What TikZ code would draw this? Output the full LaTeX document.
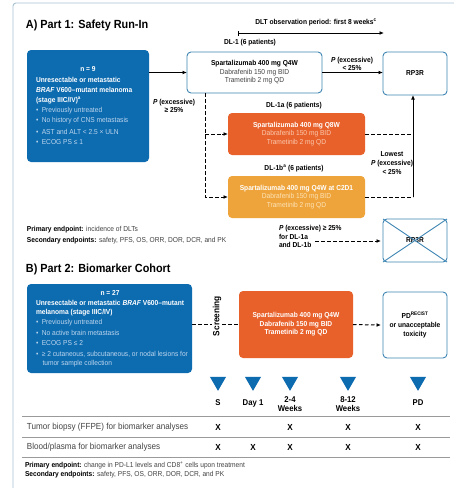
\documentclass[tikz,border=0pt]{standalone}
\usepackage{fontspec}
\setmainfont[FakeStretch=0.92]{Liberation Sans}
\usetikzlibrary{arrows.meta,shapes.geometric}
\definecolor{bbox}{HTML}{0D6BB0}
\definecolor{obox}{HTML}{E8612B}
\definecolor{ybox}{HTML}{EEA43A}
\definecolor{edgec}{HTML}{3F86B5}
\definecolor{framec}{HTML}{A9C3D3}
\definecolor{lightb}{HTML}{BCD6EE}
\definecolor{lighto}{HTML}{FBC9AD}
\definecolor{lighty}{HTML}{FDE3B8}
\definecolor{greytx}{HTML}{444444}
\definecolor{rule}{HTML}{9A9A9A}
\begin{document}
\begin{tikzpicture}[x=1pt,y=-1pt,
  every node/.style={inner sep=0pt, outer sep=0pt},
  tx/.style={font=\fontsize{7.2}{8.6}\selectfont},
  tb/.style={font=\bfseries\fontsize{7.2}{8.6}\selectfont},
  bl/.style={font=\fontsize{7.2}{8.6}\selectfont, text=lightb, anchor=west},
  wl/.style={font=\bfseries\fontsize{7.2}{8.6}\selectfont, text=white, anchor=west},
  titlef/.style={font=\bfseries\fontsize{11.8}{13}\selectfont, anchor=west},
  bluebox/.style={fill=bbox, rounded corners=4pt, anchor=north west},
  wbox/.style={draw=edgec, line width=0.9pt, fill=white, rounded corners=4pt, font=\fontsize{7.2}{8.6}\selectfont, align=center},
  obx/.style={fill=obox, rounded corners=4pt, font=\fontsize{7.2}{8.6}\selectfont, align=center, text=white},
  ybx/.style={fill=ybox, rounded corners=4pt, font=\fontsize{7.2}{8.6}\selectfont, align=center, text=white},
  arr/.style={-{Latex[length=4.5pt,width=3.8pt]}, line width=1pt},
  dsh/.style={line width=1pt, dash pattern=on 3.5pt off 2.5pt},
  tri/.style={regular polygon, regular polygon sides=3, shape border rotate=180, fill=bbox, minimum size=18.5pt},
  colh/.style={font=\bfseries\fontsize{8.4}{9.6}\selectfont, align=center},
  rowl/.style={font=\fontsize{8.8}{10}\selectfont, text=greytx, anchor=west},
  xm/.style={font=\bfseries\fontsize{8.8}{10}\selectfont}
]
\useasboundingbox (0,0) rectangle (454,488);
\fill[white] (0,0) rectangle (454,488);
% outer frame
\draw[framec, line width=0.9pt, rounded corners=3pt] (13,3) rectangle (470,505);

% ================= Part A =================
\node[titlef] (ta) at (26,25) {A) Part 1: Safety Run-In};

\node[bluebox, minimum width=122pt, minimum height=112pt] (pa) at (27,50) {};
\node[tb, text=white] (an) at (88,69) {n = 9};
\node[wl] (a1) at (36,80) {Unresectable or metastatic};
\node[wl] (a2) at (36,90) {\textit{BRAF} V600–mutant melanoma};
\node[wl] (a3) at (36,100) {(stage IIIC/IV)\textsuperscript{a}};
\node[bl] (a4) at (36,111) {•\hspace{3.5pt}Previously untreated};
\node[bl] (a5) at (36,121) {•\hspace{3.5pt}No history of CNS metastasis};
\node[bl] (a6) at (36,132) {•\hspace{3.5pt}AST and ALT < 2.5 × ULN};
\node[bl] (a7) at (36,142) {•\hspace{3.5pt}ECOG PS ≤ 1};

\node[tb] (dlt) at (316,22) {DLT observation period: first 8 weeks\textsuperscript{c}};
\coordinate (dlta) at (238,33);
\coordinate (dltb) at (384,33);
\draw[{Bar[width=5pt]}-{Latex[length=4.5pt,width=3.8pt]}, line width=1pt] (dlta) -- (dltb);

\node[tb] (l1) at (250,43) {DL-1 (6 patients)};
\node[wbox, minimum width=135pt, minimum height=41pt] (dl1) at (254.5,72.5)
  {\textbf{Spartalizumab 400 mg Q4W}\\{\color{greytx}Dabrafenib 150 mg BID}\\{\color{greytx}Trametinib 2 mg QD}};

\node[wbox, minimum width=64pt, minimum height=43pt] (rp) at (415,73.5) {\textbf{RP3R}};

\node[tb] (l1a) at (294,106) {DL-1a (6 patients)};
\node[obx, minimum width=137pt, minimum height=42pt] (dl1a) at (296.5,134)
  {\textbf{Spartalizumab 400 mg Q8W}\\{\color{lighto}Dabrafenib 150 mg BID}\\{\color{lighto}Trametinib 2 mg QD}};

\node[tb] (l1b) at (294,168) {DL-1b\textsuperscript{a} (6 patients)};
\node[ybx, minimum width=137pt, minimum height=42pt] (dl1b) at (296.5,197)
  {\textbf{Spartalizumab 400 mg Q4W at C2D1}\\{\color{lighty}Dabrafenib 150 mg BID}\\{\color{lighty}Trametinib 2 mg QD}};

\node[tb, align=center] (p1) at (174,106) {\textit{P} (excessive)\\≥ 25\%};
\node[tb, align=center] (p2) at (352,64) {\textit{P} (excessive)\\< 25\%};
\node[tb, align=center] (p3) at (392,163) {Lowest\\\textit{P} (excessive)\\< 25\%};

% connectors part A
\draw[arr] (pa.north east |- dl1.west) -- (dl1.west);
\draw[arr] (dl1.east) -- (dl1.east -| rp.west);
\coordinate (dtop) at (205,93);
\draw[dsh] (dtop) |- ([xshift=-6pt]dl1b.west);
\draw[arr] ([xshift=-6pt]dl1b.west) -- (dl1b.west);
\draw[dsh] (dtop |- dl1a.west) -- ([xshift=-6pt]dl1a.west);
\draw[arr] ([xshift=-6pt]dl1a.west) -- (dl1a.west);
\coordinate (rj) at (413,197);
\draw[dsh] (dl1a.east) -- (dl1a.east -| rj);
\draw[dsh] (dl1b.east) -- (rj);
\draw[arr] (rj) -- (rj |- rp.south);

% endpoints A
\node[tx, anchor=west] (e1) at (27,230) {\textbf{Primary endpoint:} {\color{greytx}incidence of DLTs}};
\node[tx, anchor=west] (e2) at (27,241) {\textbf{Secondary endpoints:} {\color{greytx}safety, PFS, OS, ORR, DOR, DCR, and PK}};

\node[tb, align=left, anchor=north west] (p4) at (279,225.5) {\textit{P} (excessive) ≥ 25\%\\for DL-1a\\and DL-1b};
\node[wbox, minimum width=64pt, minimum height=43pt] (rpx) at (415,240.5) {\textbf{RP3R}};
\draw[edgec, line width=0.9pt] (rpx.north west) -- (rpx.south east);
\draw[edgec, line width=0.9pt] (rpx.south west) -- (rpx.north east);
\coordinate (pe) at (315,241);
\draw[dsh] (pe) -- ([xshift=-6pt]pe -| rpx.west);
\draw[arr] ([xshift=-6pt]pe -| rpx.west) -- ([xshift=-2pt]pe -| rpx.west);

% ================= Part B =================
\node[titlef] (tb2) at (26,269) {B) Part 2: Biomarker Cohort};

\node[bluebox, minimum width=165pt, minimum height=89pt] (pb) at (27,284) {};
\node[tb, text=white] (bn) at (110,293) {n = 27};
\node[wl] (b1) at (36,303) {Unresectable or metastatic \textit{BRAF} V600–mutant};
\node[wl] (b2) at (36,313) {melanoma (stage IIIC/IV)};
\node[bl] (b3) at (36,323) {•\hspace{3.5pt}Previously untreated};
\node[bl] (b4) at (36,333) {•\hspace{3.5pt}No active brain metastasis};
\node[bl] (b5) at (36,343) {•\hspace{3.5pt}ECOG PS ≤ 2};
\node[bl] (b6) at (36,354) {•\hspace{3.5pt}≥ 2 cutaneous, subcutaneous, or nodal lesions for};
\node[bl] (b7) at (42.5,364) {tumor sample collection};

\node[obx, minimum width=114pt, minimum height=67pt] (ob) at (296,324.5)
  {\textbf{Spartalizumab 400 mg Q4W}\\\textbf{Dabrafenib 150 mg BID}\\\textbf{Trametinib 2 mg QD}};
\node[wbox, minimum width=64pt, minimum height=66pt] (pd) at (415,325)
  {\textbf{PD\textsuperscript{RECIST}}\\\textbf{or unacceptable}\\\textbf{toxicity}};

\draw[dsh] (pb.north east |- ob.west) -- (ob.west);
\node[font=\bfseries\fontsize{9}{10}\selectfont, rotate=90, fill=white, inner xsep=2pt, inner ysep=1pt] (scr) at (217,316) {Screening};
\draw[dsh] (ob.east) -- ([xshift=-6pt]pd.west);
\draw[arr] ([xshift=-6pt]pd.west) -- ([xshift=-2pt]pd.west);

% timeline
\node[tri] (t1) at (218,381.6) {};
\node[tri] (t2) at (253,381.6) {};
\node[tri] (t3) at (290,381.6) {};
\node[tri] (t4) at (348,381.6) {};
\node[tri] (t5) at (418,381.6) {};
\node[colh] (c1) at (218,403) {S};
\node[colh] (c2) at (253,403) {Day 1};
\node[colh] (c3) at (290,404) {2-4\\Weeks};
\node[colh] (c4) at (348,404) {8-12\\Weeks};
\node[colh] (c5) at (418,403) {PD};

\draw[rule, line width=0.6pt] (22,416) -- (450,416);
\draw[rule, line width=0.6pt] (22,437.5) -- (450,437.5);
\draw[rule, line width=0.6pt] (22,457) -- (450,457);

\node[rowl] (r1) at (27,427) {Tumor biopsy (FFPE) for biomarker analyses};
\node[rowl] (r2) at (27,447.5) {Blood/plasma for biomarker analyses};
\node[xm] (x11) at (218,427) {X};
\node[xm] (x13) at (290,427) {X};
\node[xm] (x14) at (348,427) {X};
\node[xm] (x15) at (418,427) {X};
\node[xm] (x21) at (218,447.5) {X};
\node[xm] (x22) at (253,447.5) {X};
\node[xm] (x23) at (290,447.5) {X};
\node[xm] (x24) at (348,447.5) {X};
\node[xm] (x25) at (418,447.5) {X};

\node[tx, anchor=west] (f1) at (25,465) {\textbf{Primary endpoint:} {\color{greytx}change in PD-L1 levels and CD8\textsuperscript{+} cells upon treatment}};
\node[tx, anchor=west] (f2) at (25,474.5) {\textbf{Secondary endpoints:} {\color{greytx}safety, PFS, OS, ORR, DOR, DCR, and PK}};
\end{tikzpicture}
\end{document}
